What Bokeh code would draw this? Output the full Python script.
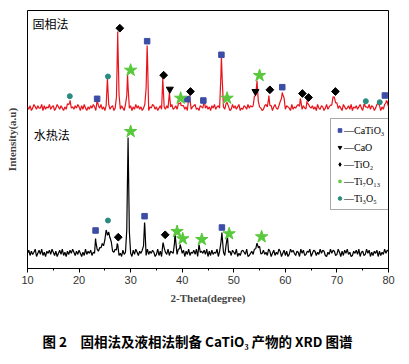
import numpy as np
from bokeh.plotting import figure
from bokeh.models import Range1d, FixedTicker, Legend, LegendItem, Title, Label
from bokeh.embed import file_html
from bokeh.resources import INLINE

# ---------------- data ----------------
theta_start, theta_stop, theta_step = 10.0, 80.0, 0.25

# baseline noise (one digit per 0.25 deg)
red_noise = ("3140253142 2504132513 4025314203 1524031425 3041520314 2530142513 0425134021 "
             "5314205132 4031524130 2514032541 3024153142 0351241530 2413052134 5120431524 "
             "1304251342 0531423015 2413502143 1524302514 3201453124 0352143025 1432051324 "
             "5031420153 2413052143 0251341520 3142053124 1503241352 0413251430 2514031524 3")
black_noise = ("3615247036 2714053627 4150362714 0526374152 6304172536 1402756341 2705163472 "
               "5130624715 3062741536 0417253640 2715036427 1543062714 3605271436 2704153627 "
               "0516243705 6241370516 4270315642 7013526471 5036241750 3614275036 1502746315 "
               "4073612547 0365142736 5104273651 2740516372 4015362704 5127360415 3605142736 5")

# solid-phase method (red): peak position (deg), height, half width (deg)
red_peak_pos = [18.2, 23.5, 25.5, 27.5, 29.4, 33.2, 36.25, 37.5, 39.7, 41.4, 44.2, 47.6, 48.7,
                54.0, 54.5, 56.8, 59.4, 62.9, 64.2, 69.5, 75.4, 78.0, 79.6]
red_peak_h = [6, 9, 30, 73, 34, 63, 28, 17, 6, 13, 6, 52, 6,
              12, 28, 13, 16, 10, 8, 11, 4, 6, 8]
red_peak_w = [0.5, 0.25, 0.25, 0.3, 0.25, 0.3, 0.25, 0.25, 0.5, 0.3, 0.25, 0.3, 0.3,
              0.4, 0.3, 0.25, 0.6, 0.25, 0.25, 0.8, 0.25, 0.25, 0.3]

# hydrothermal method (black)
black_peak_pos = [23.2, 24.6, 25.4, 26.0, 27.4, 29.5, 32.7, 36.3, 38.6, 39.6, 43.3, 47.7, 48.7, 54.7]
black_peak_h = [16, 10, 22, 14, 11, 117, 32, 12, 22, 10, 9, 22, 16, 8]
black_peak_w = [0.25, 0.8, 0.7, 0.6, 0.25, 0.3, 0.3, 0.25, 0.25, 0.3, 0.3, 0.3, 0.4, 0.8]

# phase markers, solid-phase trace (2theta, height)
red_catio3_x = [23.5, 33.2, 41.0, 44.1, 47.6, 59.4, 79.3]
red_catio3_y = [11.7, 69.3, 11.3, 10.0, 55.7, 23.3, 15.0]
red_cao_x = [37.6, 54.2]
red_cao_y = [21.3, 19.0]
red_tio2_x = [27.9, 36.4, 41.6, 57.0, 63.3, 64.5, 69.7]
red_tio2_y = [82.3, 35.3, 19.0, 20.7, 17.0, 13.0, 19.0]
red_ti7o13_x = [30.0, 39.7, 48.7, 55.0]
red_ti7o13_y = [40.3, 12.3, 12.3, 35.0]
red_ti3o5_x = [18.2, 25.6, 75.6, 78.3]
red_ti3o5_y = [14.3, 34.0, 9.3, 8.3]

# phase markers, hydrothermal trace
black_catio3_x = [23.2, 32.7, 47.7]
black_catio3_y = [26.0, 40.3, 29.0]
black_tio2_x = [27.6, 36.7]
black_tio2_y = [19.3, 21.7]
black_ti7o13_x = [30.0, 39.0, 40.1, 43.8, 49.1, 55.4]
black_ti7o13_y = [125.0, 25.0, 17.7, 17.0, 22.7, 19.7]
black_ti3o5_x = [25.6]
black_ti3o5_y = [36.0]

legend_labels = ["—CaTiO₃", "—CaO", "—TiO₂", "—Ti₇O₁₃", "—Ti₃O₅"]
x_ticks = [10, 20, 30, 40, 50, 60, 70, 80]
x_minor_ticks = [15, 25, 35, 45, 55, 65, 75]

# ---------------- build traces ----------------
def build_trace(noise_str, pos, h, w, noise_scale):
    noise = np.array([int(c) for c in noise_str if c.isdigit()], dtype=float) * noise_scale
    grid = theta_start + theta_step * np.arange(len(noise))
    xs = np.concatenate([grid, np.array(pos, dtype=float)])
    ns = np.concatenate([noise, np.full(len(pos), 2.0)])
    order = np.argsort(xs, kind="stable")
    xs, ns = xs[order], ns[order]
    ys = ns.copy()
    for p_, h_, w_ in zip(pos, h, w):
        ys += h_ * np.clip(1 - np.abs(xs - p_) / w_, 0, None)
    return xs, ys

red_off = 158
black_off = 12

rx, ry = build_trace(red_noise, red_peak_pos, red_peak_h, red_peak_w, 1.2)
bx, by = build_trace(black_noise, black_peak_pos, black_peak_h, black_peak_w, 1.05)

p = figure(width=401, height=356, output_backend="svg", toolbar_location=None,
           x_range=Range1d(theta_start, theta_stop), y_range=Range1d(0, 258),
           min_border_left=27, min_border_right=13, min_border_top=10, min_border_bottom=88)
p.background_fill_color = "white"
p.border_fill_color = "white"
p.outline_line_color = "black"
p.outline_line_width = 1
p.xgrid.visible = False
p.ygrid.visible = False

p.line(rx, ry + red_off, line_color="#E8141C", line_width=1.2)
p.line(bx, by + black_off, line_color="black", line_width=1.2)

BLUE = "#3C4DA6"
TEAL = "#2A8C80"
GREEN = "#58C83C"

def add(xs, ys, off, marker, size, color, angle=0.0):
    return p.scatter(xs, [v + off for v in ys], marker=marker, size=size, angle=angle,
                     fill_color=color, line_color=color)

DIAMOND_ANGLE = np.pi / 4
r_sq = add(red_catio3_x, red_catio3_y, red_off, "square", 5.5, BLUE)
r_tri = add(red_cao_x, red_cao_y, red_off, "inverted_triangle", 7, "black")
add(red_tio2_x, red_tio2_y, red_off, "square", 5.5, "black", DIAMOND_ANGLE)
r_star = add(red_ti7o13_x, red_ti7o13_y, red_off, "star", 13, GREEN)
r_circ = add(red_ti3o5_x, red_ti3o5_y, red_off, "circle", 5, TEAL)

add(black_catio3_x, black_catio3_y, black_off, "square", 5.5, BLUE)
add(black_tio2_x, black_tio2_y, black_off, "square", 5.5, "black", DIAMOND_ANGLE)
add(black_ti7o13_x, black_ti7o13_y, black_off, "star", 13, GREEN)
add(black_ti3o5_x, black_ti3o5_y, black_off, "circle", 5, TEAL)

# legend glyph for TiO2 (the legend ignores marker angle): zero-size diamond on the same data
r_dia = add(red_tio2_x, red_tio2_y, red_off, "diamond", 0, "black")

legend = Legend(items=[LegendItem(label=l, renderers=[r]) for l, r in
                       zip(legend_labels, [r_sq, r_tri, r_dia, r_star, r_circ])],
                location=(303, 58), glyph_width=9, glyph_height=14, label_standoff=0,
                spacing=3, padding=4, margin=0,
                label_text_font="Liberation Serif", label_text_font_size="10px",
                label_text_color="black", label_height=14,
                border_line_color="#555555", border_line_width=1,
                background_fill_color="white", background_fill_alpha=1)
p.add_layout(legend, "center")

cjk = "Noto Sans CJK SC"
p.add_layout(Label(x=10.97, y=245, text="固相法", text_font=cjk, text_font_size="12px",
                   text_baseline="middle", text_color="black"))
p.add_layout(Label(x=11.2, y=134, text="水热法", text_font=cjk, text_font_size="12px",
                   text_baseline="middle", text_color="black"))

# axes
xa = p.xaxis[0]
xa.ticker = FixedTicker(ticks=x_ticks, minor_ticks=x_minor_ticks)
xa.major_tick_out = 4
xa.major_tick_in = 0
xa.minor_tick_out = 2
xa.minor_tick_in = 0
xa.axis_line_color = "black"
xa.major_label_text_font = "Liberation Sans"
xa.major_label_text_font_size = "11px"
xa.major_label_text_color = "#333333"
xa.major_label_standoff = 3
xa.axis_label = "2-Theta(degree)"
xa.axis_label_text_font = "Liberation Serif"
xa.axis_label_text_font_style = "bold"
xa.axis_label_text_font_size = "11px"
xa.axis_label_standoff = 5

ya = p.yaxis[0]
ya.ticker = FixedTicker(ticks=[])
ya.major_tick_out = 0
ya.major_tick_in = 0
ya.minor_tick_out = 0
ya.major_label_text_font_size = "0px"
ya.axis_line_color = None
ya.axis_label = "Intensity(a.u)"
ya.axis_label_text_font = "Liberation Serif"
ya.axis_label_text_font_style = "bold"
ya.axis_label_text_font_size = "11px"
ya.axis_label_standoff = 10

spacer = Title(text="\u00a0", text_font_size="13px", standoff=0)
p.add_layout(spacer, "below")
caption = Title(text="图 2\u2003固相法及液相法制备 CaTiO₃ 产物的 XRD 图谱", align="left",
                offset=15, text_font=cjk, text_font_size="13.5px", text_font_style="bold",
                text_color="black")
p.add_layout(caption, "below")

open("out.html", "w").write(file_html(p, INLINE))
